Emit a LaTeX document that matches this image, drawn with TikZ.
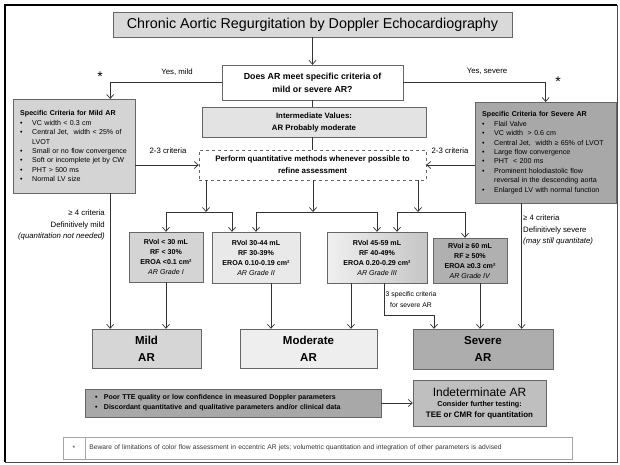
\documentclass[tikz,border=0pt]{standalone}
\usepackage{fontspec}
\setmainfont{Liberation Sans}
\usetikzlibrary{positioning,arrows.meta,shadows}

\newcommand{\bul}{\makebox[12pt][l]{\textbullet}}
\newcommand{\cont}{\hspace*{12pt}}

\tikzset{
  conn/.style={draw=black!80, line width=0.7pt},
  arr/.style={conn, -{Straight Barb[length=4pt,width=7pt]}},
  box/.style={rectangle, draw=black!60, align=center, inner sep=2pt,
    drop shadow={shadow xshift=1pt, shadow yshift=-1pt, opacity=0.3}},
  critbox/.style={box, align=left, anchor=north west, inner xsep=7pt,
    font=\fontsize{7.1}{9.4}\selectfont},
  gradebox/.style={box, font=\fontsize{7.1}{10}\bfseries\selectfont},
  endbox/.style={box, font=\fontsize{11.5}{17}\bfseries\selectfont},
  lbl/.style={inner sep=1pt, font=\fontsize{7.8}{11.5}\selectfont},
  starlbl/.style={inner sep=0pt, font=\fontsize{14}{14}\selectfont},
  notebox/.style={rectangle, draw=black!35, minimum height=22pt, text=black!80,
    font=\fontsize{6.7}{8}\selectfont}
}

\begin{document}
\begin{tikzpicture}[x=1pt, y=-1pt]
  \useasboundingbox (0,0) rectangle (620,465);
  % frame
  \draw[line width=2.5pt] (617,5) -- (5,5) -- (5,462);
  \draw[line width=0.8pt, black!70] (5,462) -- (617,462) -- (617,5);

  % top
  \node[box, minimum width=399pt, minimum height=25pt, font=\fontsize{14.3}{15}\selectfont] (title) at (312.5,24.5) {Chronic Aortic Regurgitation by Doppler Echocardiography};
  \node[box, fill=white, minimum width=181pt, minimum height=35pt, font=\fontsize{8.8}{13}\bfseries\selectfont] (quest) at (312.5,82.5) {Does AR meet specific criteria of\\mild or severe AR?};

  % criteria boxes
  \node[critbox, fill=gray!34, text width=108pt, minimum height=94pt] (mild) at (13,99) {\textbf{Specific Criteria for Mild AR}\\
    \bul VC width < 0.3 cm\\
    \bul Central Jet,\ \ width < 25\% of\\
    \cont LVOT\\
    \bul Small or no flow convergence\\
    \bul Soft or incomplete jet by CW\\
    \bul PHT > 500 ms\\
    \bul Normal LV size};
  \node[critbox, fill=gray!68, text width=127pt, minimum height=101pt] (sev) at (475,102) {\textbf{Specific Criteria for Severe AR}\\
    \bul Flail Valve\\
    \bul VC width\ \ > 0.6 cm\\
    \bul Central Jet,\ \ width ≥ 65\% of LVOT\\
    \bul Large flow convergence\\
    \bul PHT\ \ < 200 ms\\
    \bul Prominent holodiastolic flow\\
    \cont reversal in the descending aorta\\
    \bul Enlarged LV with normal function};

  \node[box, fill=gray!22, minimum width=224pt, minimum height=30pt, font=\fontsize{7.8}{12}\bfseries\selectfont] (inter) at (314,122) {Intermediate Values:\\AR Probably moderate};
  \node[rectangle, draw=black!60, dashed, fill=white, align=center, minimum width=227pt, minimum height=30pt, font=\fontsize{7.9}{12}\bfseries\selectfont] (dash) at (312.5,165) {Perform quantitative methods whenever possible to\\refine assessment};

  % grades
  \node[gradebox, fill=gray!34, minimum width=74pt, minimum height=50pt] (g1) at (166,257) {RVol < 30 mL\\RF < 30\%\\EROA <0.1 cm²\\\textmd{\itshape AR Grade I}};
  \node[gradebox, fill=gray!17, minimum width=88pt, minimum height=51pt] (g2) at (256,257.5) {RVol 30-44 mL\\RF 30-39\%\\EROA 0.10-0.19 cm²\\\textmd{\itshape AR Grade II}};
  \node[gradebox, left color=gray!12, right color=gray!45, minimum width=100pt, minimum height=51pt] (g3) at (377,257.5) {RVol 45-59 mL\\RF 40-49\%\\EROA 0.20-0.29 cm²\\\textmd{\itshape AR Grade III}};
  \node[gradebox, fill=gray!62, minimum width=74pt, minimum height=45pt] (g4) at (470,260.5) {RVol ≥ 60 mL\\RF ≥ 50\%\\EROA ≥0.3 cm²\\\textmd{\itshape AR Grade IV}};

  % results
  \node[endbox, fill=gray!32, minimum width=109pt, minimum height=39pt] (mildar) at (146.5,348.5) {Mild\\AR};
  \node[endbox, fill=gray!13, minimum width=137pt, minimum height=39pt] (modar) at (308.5,348.5) {Moderate\\AR};
  \node[endbox, fill=gray!64, minimum width=140pt, minimum height=40pt] (sevar) at (483,349) {Severe\\AR};

  \node[box, fill=gray!68, align=left, text width=276pt, inner xsep=10pt, minimum height=28pt, font=\fontsize{7}{10}\bfseries\selectfont] (poor) at (233,403) {\makebox[9pt][l]{\textbullet}Poor TTE quality or low confidence in measured Doppler parameters\\
    \makebox[9pt][l]{\textbullet}Discordant quantitative and qualitative parameters and/or clinical data};
  \node[box, fill=gray!50, minimum width=133pt, minimum height=46pt, font=\fontsize{7.2}{10.5}\bfseries\selectfont] (indet) at (479.5,403) {{\fontsize{12}{13}\mdseries\selectfont Indeterminate AR}\\Consider further testing:\\{\fontsize{8}{10}\selectfont TEE or CMR for quantitation}};

  % footnote
  \node[notebox, minimum width=22pt] (fstar) at (74,448) {*};
  \node[notebox, right=0pt of fstar, minimum width=487pt, align=left, text width=479pt] (fnote) {Beware of limitations of color flow assessment in eccentric AR jets; volumetric quantitation and integration of other parameters is advised};

  % labels
  \node[lbl] (ymild) at (177,72) {Yes, mild};
  \node[starlbl] (star1) at (100,77) {*};
  \node[lbl] (ysev) at (487,71) {Yes, severe};
  \node[starlbl] (star2) at (558,82) {*};
  \node[lbl] (crl) at (168,151) {2-3 criteria};
  \node[lbl] (crr) at (450,151) {2-3 criteria};
  \node[lbl, align=right, anchor=north east] (mildnote) at (106,209) {≥ 4 criteria\\Definitively mild\\\textit{(quantitation not needed)}};
  \node[lbl, align=left, anchor=north west] (sevnote) at (522,214) {≥ 4 criteria\\Definitively severe\\\textit{(may still quantitate)}};
  \node[lbl, align=center, font=\fontsize{6.8}{10.5}\selectfont] (three) at (411,299.5) {3 specific criteria\\for severe AR};

  % helper points
  \coordinate (mleg) at ([xshift=36pt]mild.south);
  \coordinate (sleg) at ([xshift=-24pt]sev.south);
  \coordinate (b1) at (206,212);
  \coordinate (b2) at (313,212);
  \coordinate (b3) at (418,212);
  \coordinate (g2leg) at ([xshift=15pt]g2.south);
  \coordinate (g3leg) at ([xshift=-26pt]g3.south);
  \coordinate (g3bend) at ([xshift=7pt]g3.south);
  \coordinate (g4leg) at ([xshift=10pt]g4.south);
  \coordinate (sevin) at ([xshift=-49pt]sevar.north);

  % connectors
  \draw[arr] (title) -- (quest);
  \draw[arr] (quest.west) -| (mleg |- mild.north);
  \draw[arr] (quest.east) -| (sev.north);
  \draw[conn] (quest.south) -- (quest.south |- inter.north);
  \draw[conn] (dash.north |- inter.south) -- (dash.north);
  \draw[arr] (mild.east |- dash.west) -- (dash.west);
  \draw[arr] (sev.west |- dash.east) -- (dash.east);
  \draw[arr] (dash.south -| b1) -- (b1);
  \draw[arr] (dash.south -| b2) -- (b2);
  \draw[arr] (dash.south -| b3) -- (b3);
  \draw[arr] (b1) -| (g1.north);
  \draw[arr] (b1) -| ([xshift=-24pt]g2.north);
  \draw[arr] (b2) -| (g2.north);
  \draw[arr] (b2) -| (g3.north);
  \draw[arr] (b3) -| ([xshift=20pt]g3.north);
  \draw[arr] (b3) -| ([xshift=-5pt]g4.north);
  \draw[arr] (mleg) -- (mleg |- mildar.north);
  \draw[arr] (g1.south) -- (g1.south |- mildar.north);
  \draw[arr] (g2leg) -- (g2leg |- modar.north);
  \draw[arr] (g3leg) -- (g3leg |- modar.north);
  \draw[arr] (g3bend) -- ++(0,32) -| (sevin);
  \draw[arr] (g4leg) -- (g4leg |- sevar.north);
  \draw[arr] (sleg) -- (sleg |- sevar.north);
  \draw[arr] (poor) -- (indet);
\end{tikzpicture}
\end{document}
